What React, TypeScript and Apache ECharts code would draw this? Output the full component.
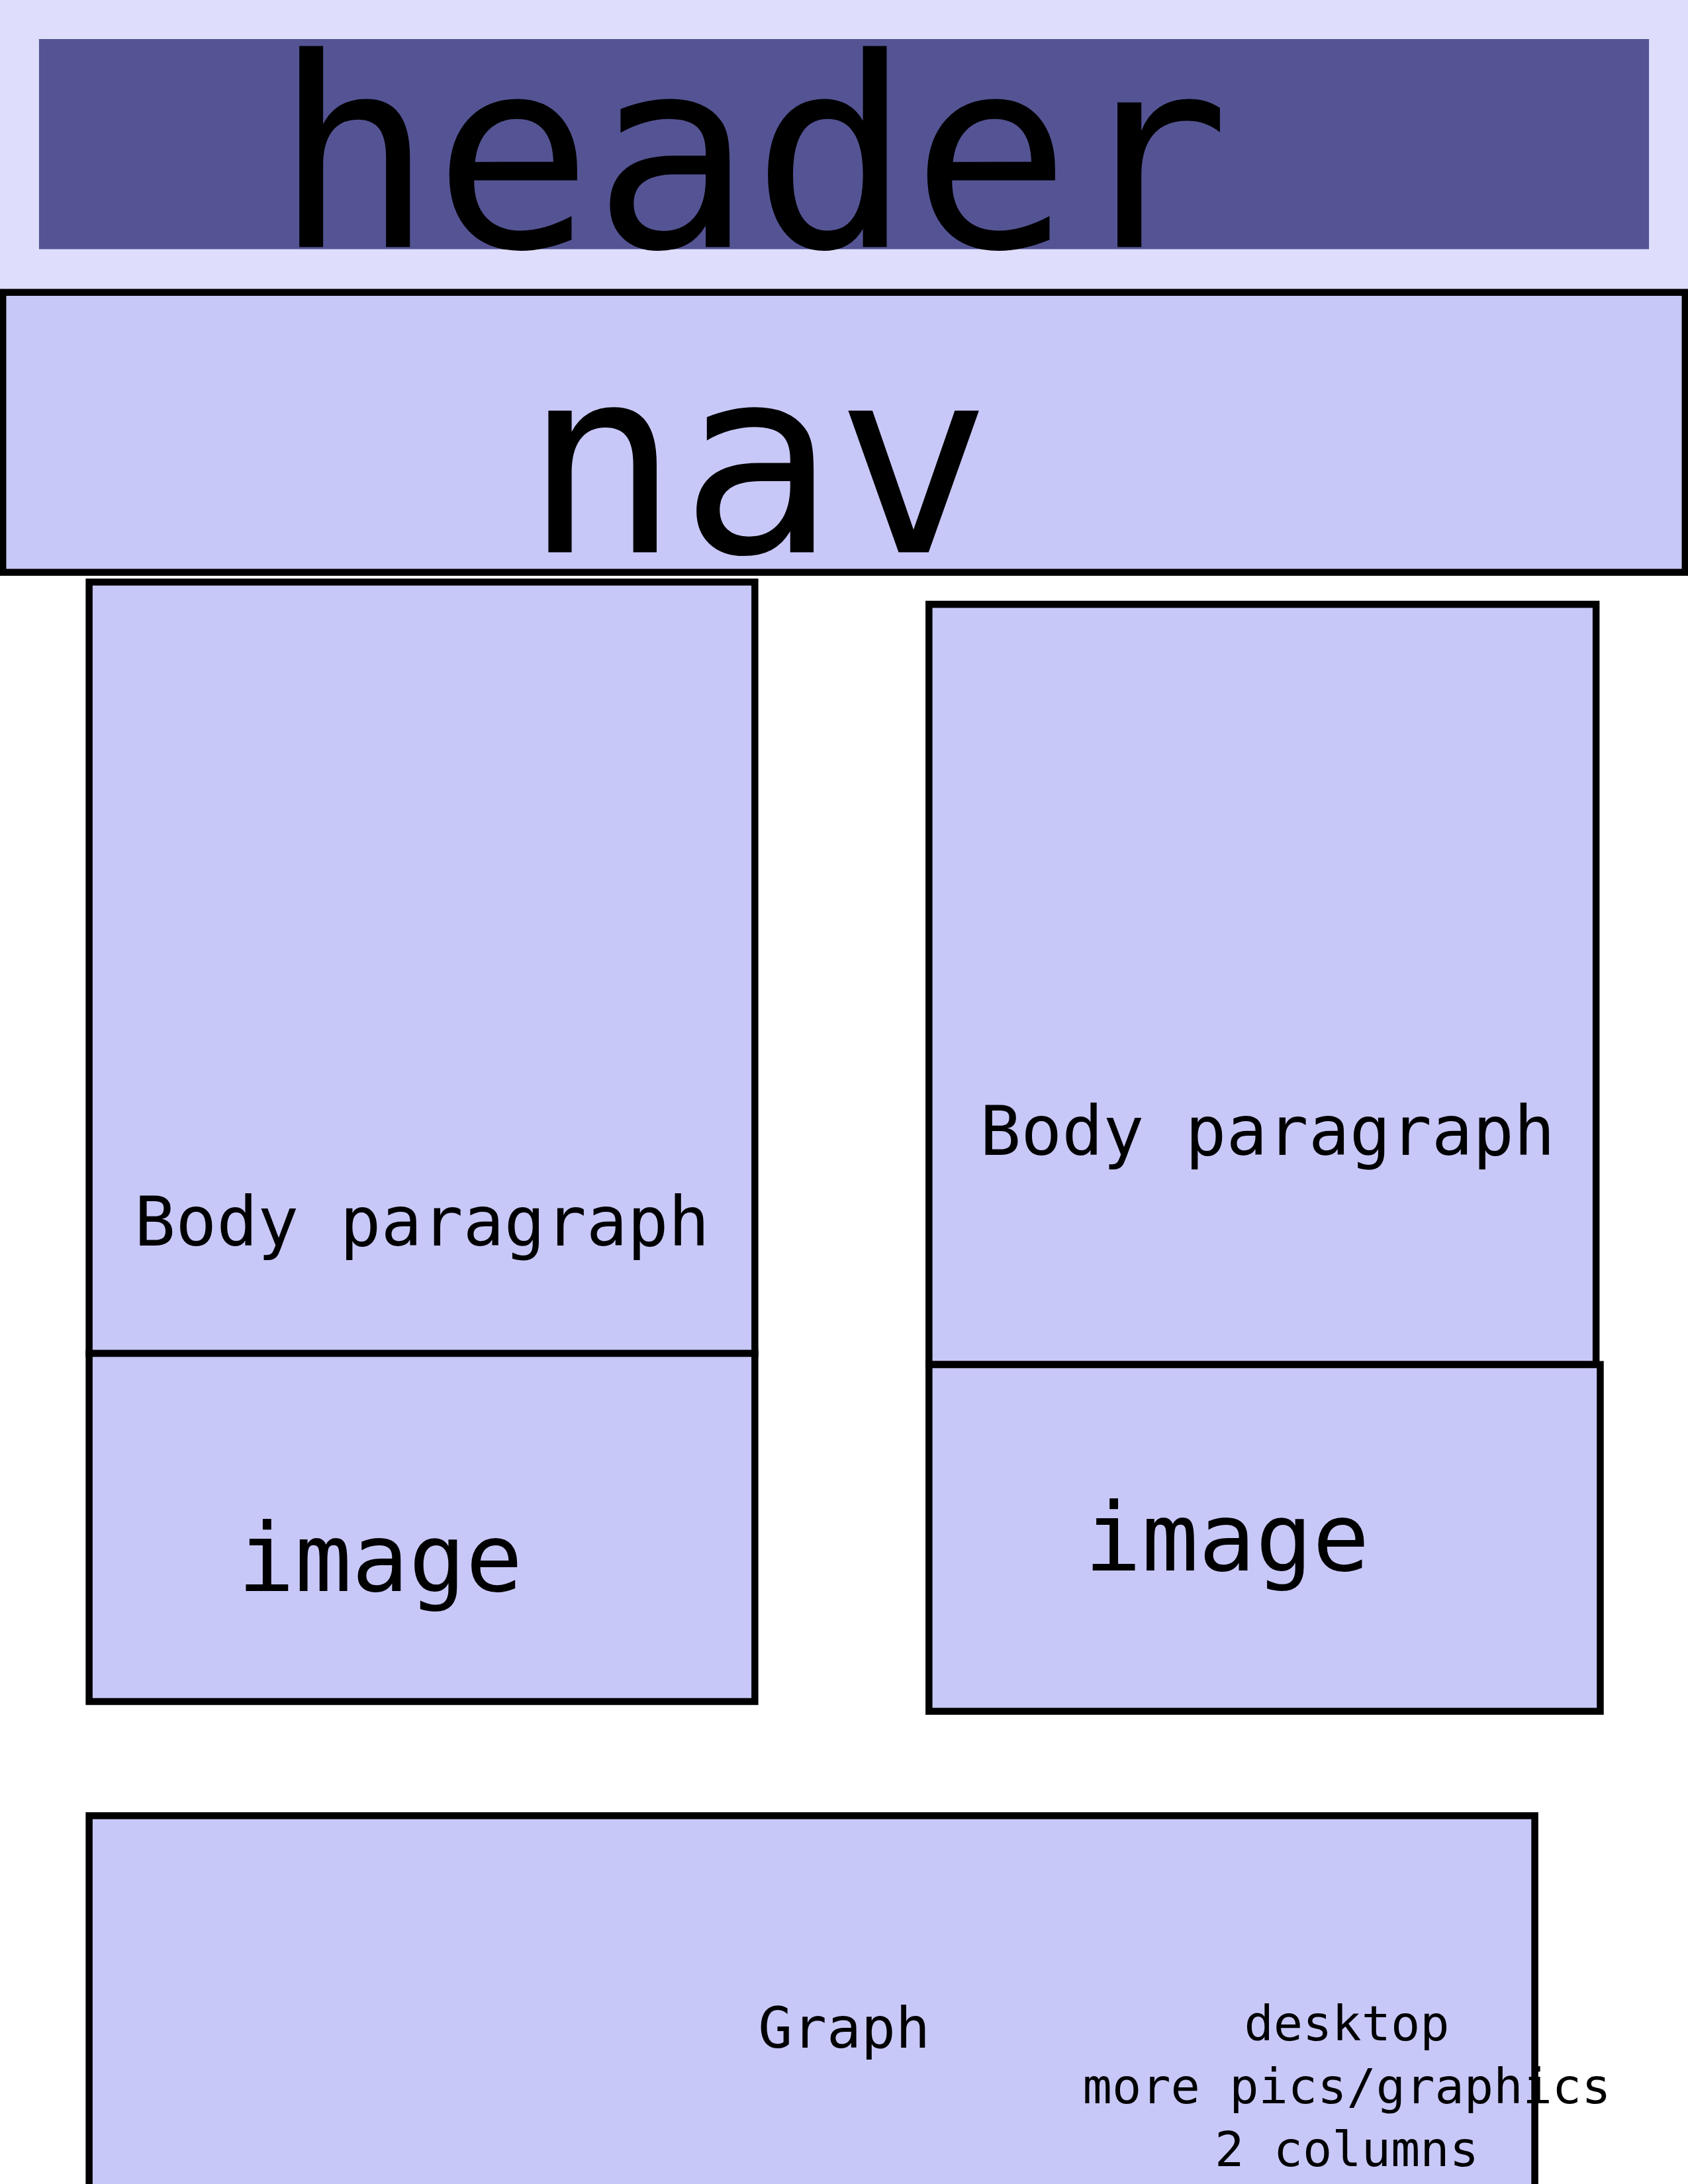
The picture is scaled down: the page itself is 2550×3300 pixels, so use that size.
import React, { useEffect, useRef } from "react";
import * as echarts from "echarts";

const S = 2550 / 1212;
const FONT = "DejaVu Sans Mono";

// boxes: [x1, y1, x2, y2, fill, stroke]
const boxes: [number, number, number, number, string, boolean][] = [
  [0, 0, 1212, 208, "#dedefc", false],
  [28, 28, 1184, 179, "#545494", false],
  [2, 210, 1210, 411, "#c8c8f8", true],
  [64, 418, 542, 972, "#c8c8f8", true],
  [64, 972, 542, 1222, "#c8c8f8", true],
  [667, 434, 1146, 980, "#c8c8f8", true],
  [667, 980, 1149, 1229, "#c8c8f8", true],
  [64, 1304, 1102, 1600, "#c8c8f8", true],
];
// labels: [text, centerX, baseline, fontSize]
const labels: [string, number, number, number][] = [
  ["header", 540, 142, 190],
  ["nav", 544, 362, 186],
  ["Body paragraph", 303, 885, 49],
  ["image", 273, 1130, 68],
  ["Body paragraph", 910, 820, 49],
  ["image", 881, 1115, 68],
  ["Graph", 606, 1463, 41],
  ["desktop", 967, 1459, 35],
  ["more pics/graphics", 967, 1504, 35],
  ["2 columns", 967, 1549, 35],
];

export default function App() {
  const ref = useRef<HTMLDivElement>(null);
  useEffect(() => {
    document.body.style.margin = "0";
    const chart = echarts.init(ref.current!, null, { renderer: "svg" });
    const elements: any[] = [];
    boxes.forEach(([x1, y1, x2, y2, fill, stroke]) => {
      elements.push({
        type: "rect",
        shape: { x: x1 * S, y: y1 * S, width: (x2 - x1) * S, height: (y2 - y1) * S },
        style: { fill, stroke: stroke ? "#000" : "none", lineWidth: stroke ? 5 * S : 0 },
      });
    });
    labels.forEach(([t, cx, base, fs]) => {
      elements.push({
        type: "text",
        x: cx * S,
        y: (base + 0.34 * fs) * S,
        style: {
          text: t,
          fontFamily: FONT,
          fontSize: fs * S,
          fill: "#000",
          align: "center",
          verticalAlign: "bottom",
          lineHeight: fs * S,
        },
      });
    });
    chart.setOption({ animation: false, graphic: { elements } });
    return () => chart.dispose();
  }, []);
  return <div ref={ref} style={{ width: 2550, height: 3300, background: "#fff" }} />;
}
